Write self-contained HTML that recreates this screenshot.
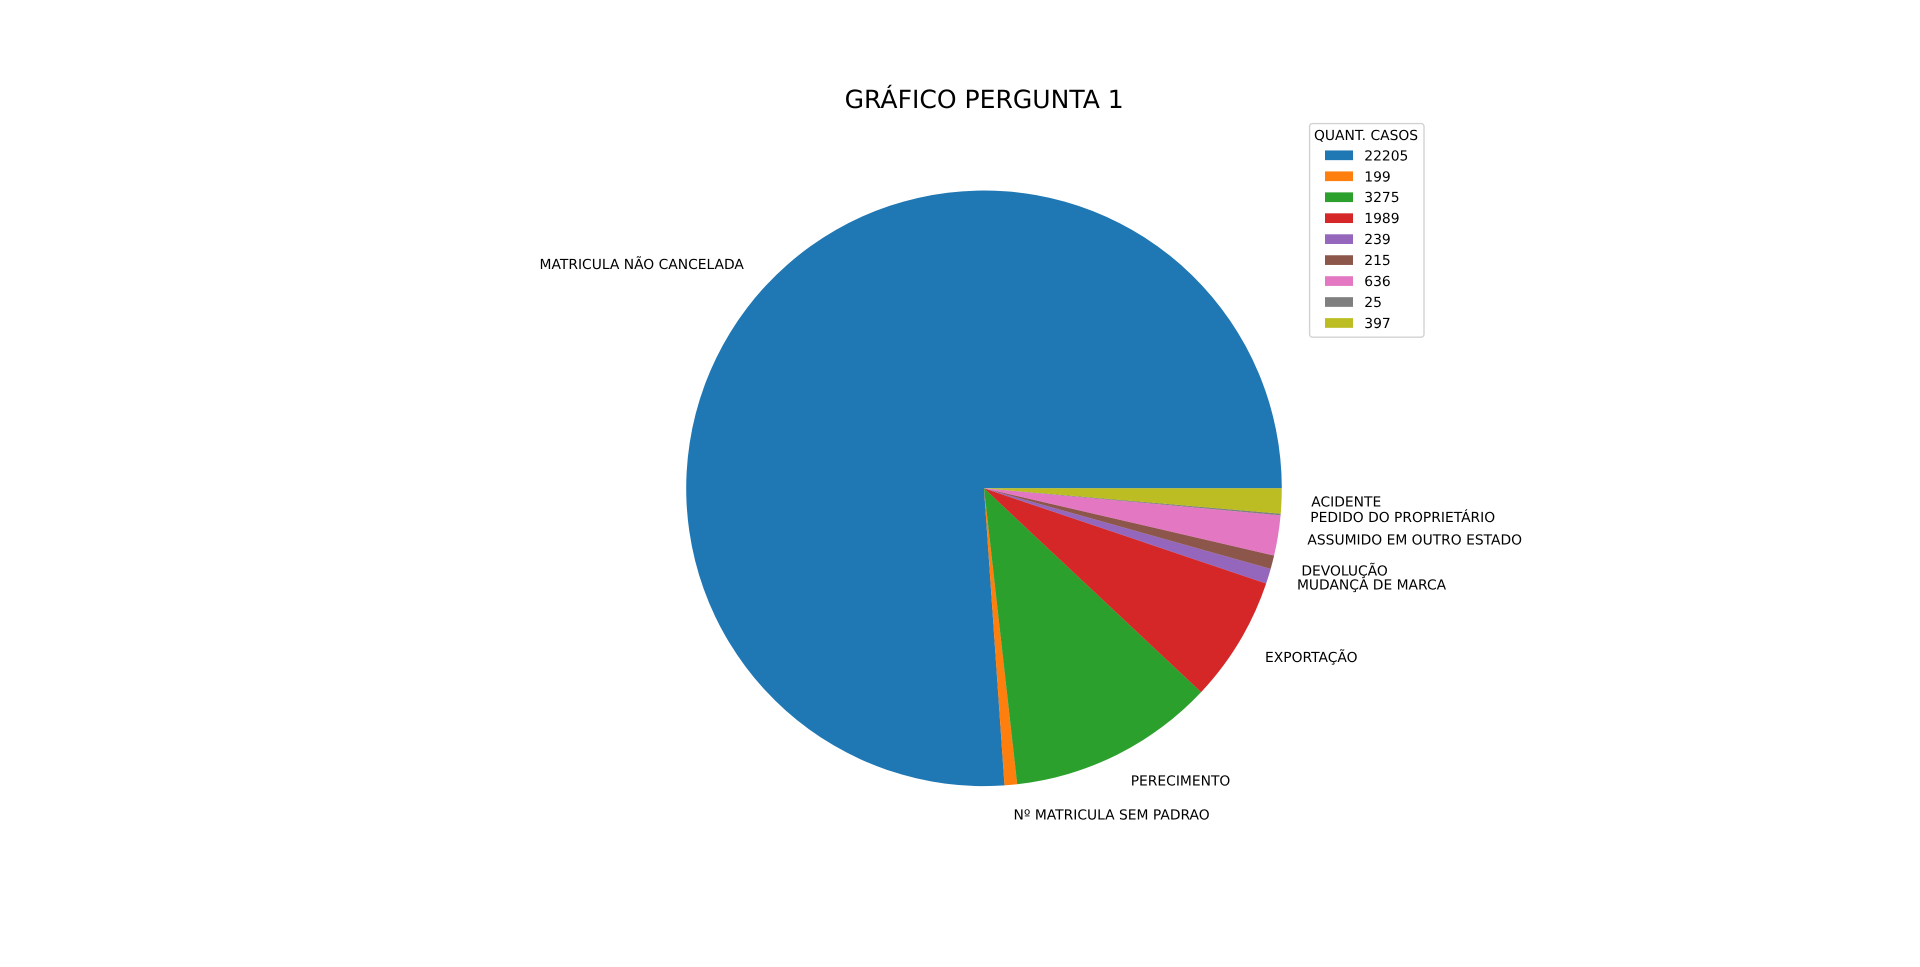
<!DOCTYPE html>
<html lang="pt">
<head>
<meta charset="utf-8">
<title>GRÁFICO PERGUNTA 1</title>
<style>
html,body{margin:0;padding:0;background:#fff;width:1920px;height:967px;overflow:hidden}
svg{display:block}
text{font-family:"DejaVu Sans",sans-serif;fill:#000;text-rendering:geometricPrecision}
</style>
</head>
<body>
<svg id="chart" xmlns="http://www.w3.org/2000/svg" width="1920" height="967" viewBox="0 0 1920 967">
  <rect x="0" y="0" width="1920" height="967" fill="#ffffff"/>
  <text id="title" x="984.2" y="108" font-size="25.05" text-anchor="middle">GRÁFICO PERGUNTA 1</text>
  <g id="slices"></g>
  <g id="labels"></g>
  <g id="legend">
    <rect x="1309.6" y="123.6" width="114.4" height="213.6" rx="2.8" ry="2.8" fill="#ffffff" stroke="#d2d2d2" stroke-width="1.4"/>
    <text x="1314" y="140" font-size="13.85">QUANT. CASOS</text>
  </g>
</svg>
<script>
const categories = ['MATRICULA NÃO CANCELADA', 'Nº MATRICULA SEM PADRAO', 'PERECIMENTO', 'EXPORTAÇÃO', 'MUDANÇA DE MARCA', 'DEVOLUÇÃO', 'ASSUMIDO EM OUTRO ESTADO', 'PEDIDO DO PROPRIETÁRIO', 'ACIDENTE'];
const values = [22205, 199, 3275, 1989, 239, 215, 636, 25, 397];
const palette = ['#1f77b4', '#ff7f0e', '#2ca02c', '#d62728', '#9467bd', '#8c564b', '#e377c2', '#7f7f7f', '#bcbd22'];

const NS = 'http://www.w3.org/2000/svg';
const cx = 984, cy = 488.3, radius = 297.8, labelFactor = 1.1, legendBaseline = 5;
const legendX = 1325, legendSwatchW = 28, legendSwatchH = 9.7, legendTextX = 1364.3, legendFirstY = 155.3, legendStep = 20.96;

const total = values.reduce(function (a, b) { return a + b; }, 0);
function angleOf(v) { return v / total * 2 * Math.PI; }
function px(a, r) { return cx + r * Math.cos(a); }
function py(a, r) { return cy - r * Math.sin(a); }
/* vertical centring of a label depends on how tall its glyphs are */
function labelBaseline(text) {
  if (/ÇÃ/.test(text)) { return 5.6; }
  if (/[Áº]/.test(text)) { return 4.8; }
  return 4.2;
}

const slicesG = document.getElementById('slices');
const labelsG = document.getElementById('labels');
const legendG = document.getElementById('legend');

let cum = 0;
values.forEach(function (v, i) {
  const a0 = angleOf(cum);
  const a1 = angleOf(cum + v);
  const mid = (a0 + a1) / 2;
  cum += v;

  const slice = document.createElementNS(NS, 'path');
  const large = (a1 - a0) > Math.PI ? 1 : 0;
  slice.setAttribute('d', 'M' + cx + ' ' + cy + ' L' + px(a0, radius).toFixed(2) + ' ' + py(a0, radius).toFixed(2) +
    ' A' + radius + ' ' + radius + ' 0 ' + large + ' 0 ' + px(a1, radius).toFixed(2) + ' ' + py(a1, radius).toFixed(2) + ' Z');
  slice.setAttribute('fill', palette[i % palette.length]);
  
  
  slicesG.appendChild(slice);

  const label = document.createElementNS(NS, 'text');
  const lx = px(mid, radius * labelFactor);
  const rightSide = lx > cx;
  label.setAttribute('x', (rightSide ? lx : lx - 0.6).toFixed(2));
  label.setAttribute('y', (py(mid, radius * labelFactor) + labelBaseline(categories[i])).toFixed(2));
  label.setAttribute('font-size', '13.85');
  label.setAttribute('text-anchor', rightSide ? 'start' : 'end');
  label.textContent = categories[i];
  
  
  labelsG.appendChild(label);

  const rowY = legendFirstY + i * legendStep;

  const swatch = document.createElementNS(NS, 'rect');
  swatch.setAttribute('x', legendX);
  swatch.setAttribute('y', (rowY - legendSwatchH / 2).toFixed(2));
  swatch.setAttribute('width', legendSwatchW);
  swatch.setAttribute('height', legendSwatchH);
  swatch.setAttribute('fill', palette[i % palette.length]);
  
  
  legendG.appendChild(swatch);

  const entry = document.createElementNS(NS, 'text');
  entry.setAttribute('x', legendTextX);
  entry.setAttribute('y', (rowY + legendBaseline).toFixed(2));
  entry.setAttribute('font-size', '13.85');
  entry.textContent = String(v);
  
  
  legendG.appendChild(entry);
});
</script>
</body>
</html>
